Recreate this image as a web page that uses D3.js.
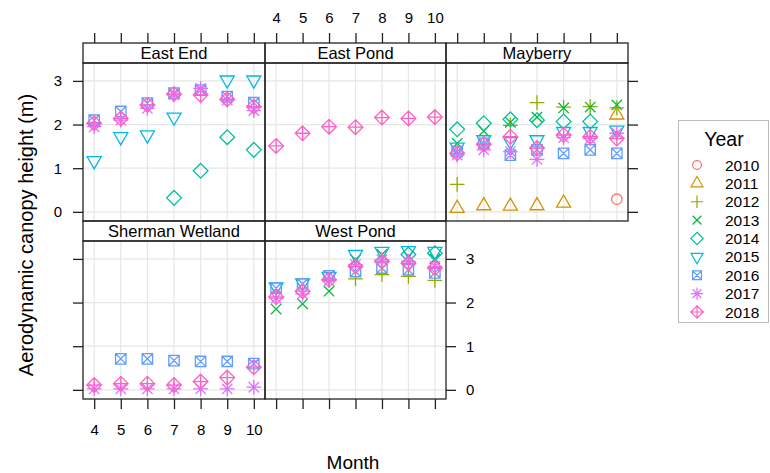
<!DOCTYPE html>
<html>
<head>
<meta charset="utf-8">
<script src="https://cdn.jsdelivr.net/npm/d3@7"></script>
<style>
  body { margin: 0; background: #fff; }
  svg { display: block; }
  text { font-family: "Liberation Sans", Arial, Helvetica, sans-serif; fill: #000; }
</style>
</head>
<body>
<svg id="chart" width="770" height="473"></svg>
<script>
// ---- data -------------------------------------------------------------
const months = [4, 5, 6, 7, 8, 9, 10];
const monthTicks = [4, 5, 6, 7, 8, 9, 10];
const heightTicks = [0, 1, 2, 3];
const years = [2010, 2011, 2012, 2013, 2014, 2015, 2016, 2017, 2018];
const yearColors = ["#F8766D", "#D39200", "#93AA00", "#00BA38", "#00C19F",
                    "#00B9E3", "#619CFF", "#DB72FB", "#FF61C3"];
const siteNames = ["East End", "East Pond", "Mayberry", "Sherman Wetland", "West Pond"];

// aerodynamic canopy height (m) for months 4..10; null = no measurement
const eastEnd = {
  2014: [null, null, null, 0.32, 0.94, 1.71, 1.42],
  2015: [1.17, 1.72, 1.76, 2.17, null, 3.02, 3.02],
  2016: [2.10, 2.30, 2.49, 2.72, 2.79, 2.64, 2.50],
  2017: [1.95, 2.10, 2.37, 2.68, 2.83, 2.56, 2.32],
  2018: [2.03, 2.14, 2.45, 2.70, 2.68, 2.58, 2.41]
};
const eastPond = {
  2018: [1.51, 1.80, 1.95, 1.94, 2.16, 2.14, 2.17]
};
const mayberry = {
  2010: [null, null, null, null, null, null, 0.29],
  2011: [0.08, 0.14, 0.13, 0.14, 0.20, null, 2.22],
  2012: [0.63, 1.55, 1.98, 2.50, 2.40, 2.41, 2.38],
  2013: [1.57, 1.85, 2.05, 2.17, 2.38, 2.40, 2.45],
  2014: [1.89, 2.03, 2.12, 2.10, 2.07, 2.07, null],
  2015: [1.48, 1.65, 1.61, 1.65, 1.84, 1.84, 1.87],
  2016: [1.38, 1.57, 1.30, 1.42, 1.34, 1.42, 1.34],
  2017: [1.30, 1.42, 1.38, 1.20, 1.70, 1.68, 1.80],
  2018: [1.34, 1.55, 1.72, 1.46, 1.76, 1.72, 1.68]
};
const shermanWetland = {
  2016: [null, 0.71, 0.71, 0.67, 0.65, 0.65, 0.60],
  2017: [0.02, 0.02, 0.02, 0.02, 0.02, 0.02, 0.06],
  2018: [0.11, 0.14, 0.14, 0.11, 0.19, 0.28, 0.52]
};
const westPond = {
  2012: [null, null, null, 2.54, 2.64, 2.60, 2.51],
  2013: [1.85, 1.97, 2.26, 2.98, 3.10, 3.06, 3.00],
  2014: [null, null, null, null, null, 3.10, 3.13],
  2015: [2.36, 2.45, 2.60, 3.10, 3.17, 3.19, 3.17],
  2016: [2.33, 2.43, 2.61, 2.71, 2.79, 2.75, 2.68],
  2017: [2.10, 2.20, 2.50, 2.87, 2.98, 2.94, 2.83],
  2018: [2.13, 2.26, 2.52, 2.83, 2.94, 2.90, 2.79]
};
const siteSeries = [eastEnd, eastPond, mayberry, shermanWetland, westPond];

// ---- layout -----------------------------------------------------------
const svg = d3.select("#chart");
const colEdges = [83, 265, 446, 628];
const rows = [
  { stripTop: 43, panelTop: 63, panelBottom: 221 },
  { stripTop: 221, panelTop: 241, panelBottom: 399 }
];
const xDomain = [3.58, 10.42];
const yDomain = [-0.21, 3.41];
const gridColor = "#e6e6e6";
const frameColor = "#222";
const tickLen = 10;

// panel index -> grid cell
const cells = [
  { row: 0, col: 0 }, { row: 0, col: 1 }, { row: 0, col: 2 },
  { row: 1, col: 0 }, { row: 1, col: 1 }
];

// R-style plotting symbols (pch 1..9), u = base radius
function symbolPath(k, u) {
  const p = d3.path();
  const r2 = Math.SQRT2 * u;
  switch (k) {
    case 0: p.moveTo(u, 0); p.arc(0, 0, u, 0, 2 * Math.PI); break;
    case 1: {
      const t0 = 1.555 * u, t1 = 1.347 * u, t2 = 0.778 * u;
      p.moveTo(0, -t0); p.lineTo(t1, t2); p.lineTo(-t1, t2); p.closePath(); break;
    }
    case 2: p.moveTo(-r2, 0); p.lineTo(r2, 0); p.moveTo(0, -r2); p.lineTo(0, r2); break;
    case 3: p.moveTo(-u, -u); p.lineTo(u, u); p.moveTo(-u, u); p.lineTo(u, -u); break;
    case 4: p.moveTo(0, -r2); p.lineTo(r2, 0); p.lineTo(0, r2); p.lineTo(-r2, 0); p.closePath(); break;
    case 5: {
      const t0 = 1.555 * u, t1 = 1.347 * u, t2 = 0.778 * u;
      p.moveTo(0, t0); p.lineTo(t1, -t2); p.lineTo(-t1, -t2); p.closePath(); break;
    }
    case 6: p.rect(-u, -u, 2 * u, 2 * u);
            p.moveTo(-u, -u); p.lineTo(u, u); p.moveTo(-u, u); p.lineTo(u, -u); break;
    case 7: p.moveTo(-u, -u); p.lineTo(u, u); p.moveTo(-u, u); p.lineTo(u, -u);
            p.moveTo(-r2, 0); p.lineTo(r2, 0); p.moveTo(0, -r2); p.lineTo(0, r2); break;
    case 8: p.moveTo(0, -r2); p.lineTo(r2, 0); p.lineTo(0, r2); p.lineTo(-r2, 0); p.closePath();
            p.moveTo(-r2, 0); p.lineTo(r2, 0); p.moveTo(0, -r2); p.lineTo(0, r2); break;
  }
  return p.toString();
}

const panels = siteNames.map((name, i) => {
  const c = cells[i];
  const left = colEdges[c.col], right = colEdges[c.col + 1];
  const rw = rows[c.row];
  return {
    name, series: siteSeries[i], row: c.row, col: c.col, left, right, ...rw,
    x: d3.scaleLinear().domain(xDomain).range([left, right]),
    y: d3.scaleLinear().domain(yDomain).range([rw.panelBottom, rw.panelTop])
  };
});

const gGrid = svg.append("g");
const gPts = svg.append("g");
const gFrame = svg.append("g");

panels.forEach(P => {
  // grid
  gGrid.selectAll(null).data(monthTicks).enter().append("line")
    .attr("x1", d => P.x(d)).attr("x2", d => P.x(d))
    .attr("y1", P.panelTop).attr("y2", P.panelBottom)
    .attr("stroke", gridColor).attr("stroke-width", 1.2);
  gGrid.selectAll(null).data(heightTicks).enter().append("line")
    .attr("x1", P.left).attr("x2", P.right)
    .attr("y1", d => P.y(d)).attr("y2", d => P.y(d))
    .attr("stroke", gridColor).attr("stroke-width", 1.2);

  // points, years drawn in order so later years sit on top
  years.forEach((yr, k) => {
    const vals = P.series[yr];
    if (!vals) return;
    const pts = months.map((m, j) => ({ m, v: vals[j] })).filter(d => d.v != null);
    gPts.selectAll(null).data(pts).enter().append("path")
      .attr("transform", d => `translate(${P.x(d.m)},${P.y(d.v)})`)
      .attr("d", symbolPath(k, 5.2))
      .attr("fill", "none")
      .attr("stroke", yearColors[k])
      .attr("stroke-width", 1.3);
  });

  // strip
  gFrame.append("rect")
    .attr("x", P.left).attr("y", P.stripTop)
    .attr("width", P.right - P.left).attr("height", P.panelTop - P.stripTop)
    .attr("fill", "none").attr("stroke", frameColor).attr("stroke-width", 1.3);
  gFrame.append("text")
    .attr("x", (P.left + P.right) / 2).attr("y", (P.stripTop + P.panelTop) / 2 + 5.8)
    .attr("text-anchor", "middle").attr("font-size", 16.5)
    .text(P.name);
  // panel frame
  gFrame.append("rect")
    .attr("x", P.left).attr("y", P.panelTop)
    .attr("width", P.right - P.left).attr("height", P.panelBottom - P.panelTop)
    .attr("fill", "none").attr("stroke", frameColor).attr("stroke-width", 1.3);
});

// ---- axes (alternating lattice style) ----------------------------------
function axisGroup(axis, tx, ty, showLabels) {
  const g = gFrame.append("g").attr("transform", `translate(${tx},${ty})`).call(axis);
  g.select(".domain").remove();
  g.selectAll(".tick line").attr("stroke", frameColor).attr("stroke-width", 1.3);
  g.selectAll(".tick text")
    .attr("font-size", 15)
    .attr("font-family", '"Liberation Sans", Arial, sans-serif')
    .attr("fill", "#000")
    .style("display", showLabels ? null : "none");
  return g;
}

panels.forEach(P => {
  if (P.row === 0) {
    axisGroup(d3.axisTop(P.x).tickValues(monthTicks).tickFormat(d3.format("d"))
      .tickSize(tickLen).tickPadding(10), 0, P.stripTop, P.col === 1);
  }
  if (P.row === 1) {
    axisGroup(d3.axisBottom(P.x).tickValues(monthTicks).tickFormat(d3.format("d"))
      .tickSize(tickLen).tickPadding(15), 0, P.panelBottom, P.col === 0);
  }
  if (P.col === 0) {
    axisGroup(d3.axisLeft(P.y).tickValues(heightTicks).tickFormat(d3.format("d"))
      .tickSize(tickLen).tickPadding(11), P.left, 0, P.row === 0);
  }
  if ((P.row === 0 && P.col === 2) || (P.row === 1 && P.col === 1)) {
    axisGroup(d3.axisRight(P.y).tickValues(heightTicks).tickFormat(d3.format("d"))
      .tickSize(tickLen).tickPadding(10), P.right, 0, P.row === 1);
  }
});

// axis titles
svg.append("text")
  .attr("x", 353).attr("y", 469)
  .attr("text-anchor", "middle").attr("font-size", 19)
  .text("Month");
svg.append("text")
  .attr("transform", "translate(33,235) rotate(-90)")
  .attr("text-anchor", "middle").attr("font-size", 20)
  .text("Aerodynamic canopy height (m)");

// ---- legend -----------------------------------------------------------
const lg = svg.append("g");
lg.append("rect")
  .attr("x", 678.5).attr("y", 120.5).attr("width", 90).attr("height", 202)
  .attr("fill", "#fff").attr("stroke", "#bbb").attr("stroke-width", 1);
lg.append("text")
  .attr("x", 724).attr("y", 146)
  .attr("text-anchor", "middle").attr("font-size", 19.5)
  .text("Year");
const legendY = d3.scaleLinear().domain([0, years.length - 1]).range([165, 312]);
const items = lg.selectAll("g.item").data(years).enter().append("g")
  .attr("class", "item")
  .attr("transform", (d, i) => `translate(0,${legendY(i)})`);
items.append("path")
  .attr("transform", "translate(697,0)")
  .attr("d", (d, i) => symbolPath(i, 4.4))
  .attr("fill", "none")
  .attr("stroke", (d, i) => yearColors[i])
  .attr("stroke-width", 1.2);
items.append("text")
  .attr("x", 725).attr("y", 5.5)
  .attr("font-size", 15.5)
  .text(d => d);
</script>
</body>
</html>
